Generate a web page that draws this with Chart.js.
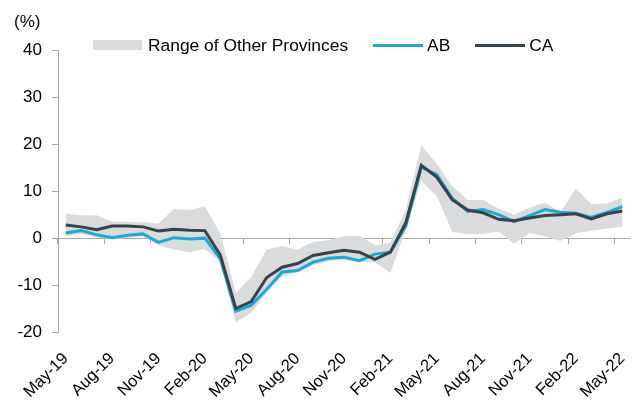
<!DOCTYPE html>
<html>
<head>
<meta charset="utf-8">
<script src="https://cdn.jsdelivr.net/npm/chart.js@4"></script>
<style>
  body { margin: 0; background: #fff; }
  #wrap { position: relative; width: 633px; height: 404px; }
  #legend {
    position: absolute; top: 35px; left: 93px;
    display: flex; align-items: center;
    font: 17.4px "Liberation Sans", Arial, sans-serif; color: #000; line-height: 20px;
  }
  .item { display: flex; align-items: center; margin-right: 25px; }
  .box { display: inline-block; width: 49px; height: 10px; margin-right: 6px; }
  .line { display: inline-block; width: 50px; height: 3px; margin-right: 4px; }
</style>
</head>
<body>
<div id="wrap">
  <canvas id="chart"></canvas>
  <div id="legend"></div>
</div>
<script>
const months = ['May-19', 'Jun-19', 'Jul-19', 'Aug-19', 'Sep-19', 'Oct-19', 'Nov-19', 'Dec-19',
  'Jan-20', 'Feb-20', 'Mar-20', 'Apr-20', 'May-20', 'Jun-20', 'Jul-20', 'Aug-20', 'Sep-20',
  'Oct-20', 'Nov-20', 'Dec-20', 'Jan-21', 'Feb-21', 'Mar-21', 'Apr-21', 'May-21', 'Jun-21',
  'Jul-21', 'Aug-21', 'Sep-21', 'Oct-21', 'Nov-21', 'Dec-21', 'Jan-22', 'Feb-22', 'Mar-22',
  'Apr-22', 'May-22'];

// Alberta
const ab = [1.1, 1.6, 0.7, 0.1, 0.6, 0.9, -0.9, 0.1, -0.2, 0.0, -4.4, -15.6, -14.3, -10.9,
  -7.2, -6.9, -5.1, -4.3, -4.1, -4.8, -3.4, -3.0, 2.6, 15.1, 13.5, 8.5, 5.7, 6.1, 5.0, 3.5,
  4.8, 6.1, 5.5, 5.3, 4.4, 5.5, 6.7];

// Canada
const ca = [2.8, 2.4, 1.8, 2.6, 2.6, 2.4, 1.5, 1.9, 1.7, 1.6, -3.6, -15.0, -13.5, -8.4,
  -6.2, -5.4, -3.7, -3.1, -2.6, -3.0, -4.5, -3.0, 3.3, 15.5, 13.0, 8.2, 6.0, 5.4, 4.0, 3.7,
  4.3, 4.8, 5.0, 5.2, 4.1, 5.2, 5.8];

// range of the other provinces (high / low)
const rangeHigh = [5.2, 4.9, 4.9, 3.5, 3.5, 3.4, 3.1, 6.2, 6.0, 6.8, 1.0, -11.7, -8.3, -2.4,
  -1.7, -2.4, -0.8, -0.4, 0.4, 0.5, -1.5, -1.0, 6.1, 19.8, 15.8, 11.1, 8.1, 8.1, 6.3, 5.0,
  6.5, 7.6, 5.5, 10.5, 7.2, 7.4, 8.6];
const rangeLow = [0.4, 0.9, 0.2, -0.3, 0.1, 0.4, -1.5, -2.4, -3.0, -2.3, -4.9, -18.0, -15.9,
  -11.6, -8.1, -7.2, -5.8, -4.9, -4.5, -5.0, -5.2, -7.4, 1.8, 12.2, 8.9, 1.3, 0.9, 0.9, 1.4,
  -1.2, 1.1, 0.4, -0.6, 1.0, 1.6, 2.0, 2.4];

const yTicks = { min: -20, max: 40, step: 10 };

const axisGray = '#a6a6a6';
Chart.defaults.font.family = '"Liberation Sans", Arial, sans-serif';
Chart.defaults.font.size = 17;
Chart.defaults.color = '#000';

// legend as html, built from the datasets (the canvas legend can't sit this close to the plot)
const htmlLegend = {
  id: 'htmlLegend',
  afterUpdate(chart) {
    const box = document.getElementById('legend');
    box.innerHTML = '';
    chart.data.datasets.filter(ds => ds.label).forEach(ds => {
      const el = document.createElement('div');
      el.className = 'item';
      const mark = document.createElement('span');
      if (ds.pointStyle === 'line') {
        mark.className = 'line';
        mark.style.background = ds.borderColor;
      } else {
        mark.className = 'box';
        mark.style.background = ds.backgroundColor;
      }
      el.appendChild(mark);
      el.appendChild(document.createTextNode(ds.label));
      box.appendChild(el);
    });
  }
};

new Chart(document.getElementById('chart'), {
  type: 'line',
  data: {
    labels: months,
    datasets: [
      {
        label: 'Range of Other Provinces',
        data: rangeHigh,
        backgroundColor: '#d9dbdc',
        borderColor: 'transparent',
        borderWidth: 0,
        pointRadius: 0,
        pointStyle: 'rect',
        fill: '+1',
        order: 2
      },
      {
        label: '',
        data: rangeLow,
        borderColor: 'transparent',
        borderWidth: 0,
        pointRadius: 0,
        fill: false,
        order: 2
      },
      {
        label: 'AB',
        data: ab,
        borderColor: '#1ba9d6',
        borderWidth: 3,
        pointRadius: 0,
        pointStyle: 'line',
        fill: false,
        order: 1
      },
      {
        label: 'CA',
        data: ca,
        borderColor: '#37424a',
        borderWidth: 3,
        pointRadius: 0,
        pointStyle: 'line',
        fill: false,
        order: 0
      }
    ]
  },
  options: {
    responsive: true,
    maintainAspectRatio: false,
    animation: false,
    layout: { padding: { left: 14, right: 3, top: 0, bottom: 0 } },
    plugins: {
      legend: { display: false },
      tooltip: { enabled: false },
      title: {
        display: true,
        text: '(%)',
        align: 'start',
        color: '#000',
        font: { size: 17, weight: 'normal' },
        padding: { top: 12, bottom: 18 }
      }
    },
    scales: {
      x: {
        offset: true,
        grid: { display: false },
        border: { display: false },
        ticks: {
          autoSkip: false,
          maxRotation: 45,
          minRotation: 45,
          padding: 9,
          color: '#000',
          font: { size: 16.5 },
          callback: function(value, index) {
            return index % 3 === 0 ? this.getLabelForValue(value) : '';
          }
        },
        afterFit(scale) {
          scale.height = 72;
          scale.paddingLeft = 0;
          scale.paddingRight = 0;
        }
      },
      // zero line with tick marks between the quarters
      xZero: {
        type: 'category',
        position: { y: 0 },
        offset: true,
        grid: {
          offset: true,
          drawOnChartArea: false,
          tickLength: 5,
          color: ctx => (ctx.index % 3 === 0 ? axisGray : 'transparent')
        },
        border: { color: axisGray },
        ticks: { display: false, autoSkip: false }
      },
      y: {
        min: yTicks.min,
        max: yTicks.max,
        ticks: { stepSize: yTicks.step, padding: 10, color: '#000' },
        grid: { drawOnChartArea: false, tickLength: 6, color: axisGray },
        border: { color: axisGray },
        afterFit(scale) { scale.width = 44; }
      }
    }
  },
  plugins: [htmlLegend]
});
</script>
</body>
</html>
